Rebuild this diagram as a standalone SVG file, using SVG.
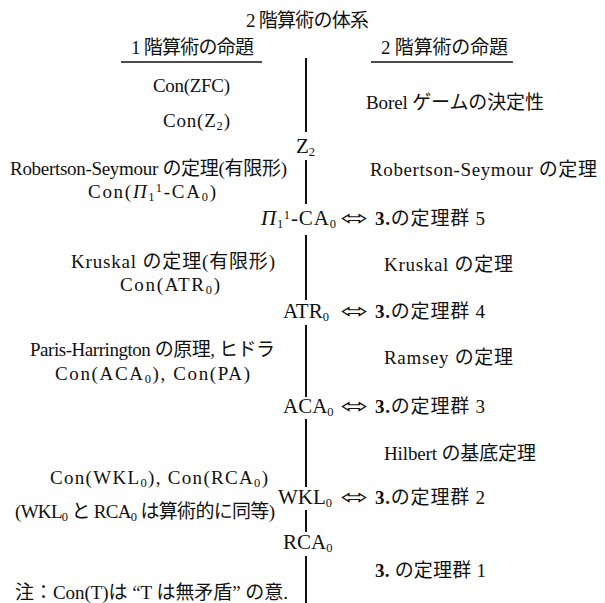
<svg xmlns="http://www.w3.org/2000/svg" width="605" height="603" viewBox="0 0 605 603">
<style>
text{font-family:"Liberation Serif","Noto Sans CJK JP",serif;font-size:19px;fill:#111}
.m{font-size:21px}
.s{font-size:12.5px}
.b{font-weight:bold}
.i{font-style:italic}
.ar{font-family:"DejaVu Sans",sans-serif;font-size:20px}
line{stroke:#111;stroke-width:2}
</style>
<rect width="605" height="603" fill="#fff"/>
<g id="connectors">
<line x1="306" y1="58" x2="306" y2="132"/>
<line x1="306" y1="160" x2="306" y2="204"/>
<line x1="306" y1="235" x2="306" y2="300"/>
<line x1="306" y1="325" x2="306" y2="397"/>
<line x1="306" y1="419" x2="306" y2="487"/>
<line x1="306" y1="510" x2="306" y2="532"/>
<line x1="306" y1="556" x2="306" y2="603"/>
<line x1="121" y1="62" x2="262" y2="62" style="stroke-width:1.5"/>
<line x1="371" y1="62" x2="513" y2="62" style="stroke-width:1.5"/>
</g>
<g id="title"><text x="246" y="27" textLength="123">2 階算術の体系</text></g>
<g id="head1"><text x="131" y="54" textLength="123">1 階算術の命題</text></g>
<g id="head2"><text x="381" y="54" textLength="127">2 階算術の命題</text></g>
<g id="conzfc"><text x="153" y="92" textLength="77">Con(ZFC)</text></g>
<g id="conz2"><text x="163" y="127" textLength="67">Con(Z<tspan class="s" dy="3">2</tspan><tspan dy="-3">)</tspan></text></g>
<g id="borel"><text x="366" y="109" textLength="178">Borel ゲームの決定性</text></g>
<g id="z2"><text class="m" x="296" y="153">Z<tspan class="s" dy="3">2</tspan></text></g>
<g id="rsfin"><text x="10" y="175" textLength="277">Robertson-Seymour の定理(有限形)</text></g>
<g id="conpi"><text x="88" y="198" textLength="128">Con(<tspan class="i">Π</tspan><tspan class="s" dy="3">1</tspan><tspan class="s" dy="-9">1</tspan><tspan dy="6">-CA</tspan><tspan class="s" dy="3">0</tspan><tspan dy="-3">)</tspan></text></g>
<g id="rs"><text x="370" y="176" textLength="227">Robertson-Seymour の定理</text></g>
<g id="pi">
<text class="m" x="261" y="225" textLength="75"><tspan class="i">Π</tspan><tspan class="s" dy="3">1</tspan><tspan class="s" dy="-9">1</tspan><tspan dy="6">-CA</tspan><tspan class="s" dy="3">0</tspan></text>
<text class="ar" x="340" y="225" textLength="28" lengthAdjust="spacingAndGlyphs">⬄</text>
<text x="375" y="225" textLength="110"><tspan class="b">3.</tspan>の定理群 5</text>
</g>
<g id="krfin"><text x="71" y="268" textLength="204">Kruskal の定理(有限形)</text></g>
<g id="conatr"><text x="120" y="291" textLength="100">Con(ATR<tspan class="s" dy="3">0</tspan><tspan dy="-3">)</tspan></text></g>
<g id="kr"><text x="384" y="271" textLength="129">Kruskal の定理</text></g>
<g id="atr">
<text class="m" x="283" y="318">ATR<tspan class="s" dy="3">0</tspan></text>
<text class="ar" x="340" y="318" textLength="28" lengthAdjust="spacingAndGlyphs">⬄</text>
<text x="375" y="318" textLength="110"><tspan class="b">3.</tspan>の定理群 4</text>
</g>
<g id="ph"><text x="30" y="356" textLength="245">Paris-Harrington の原理, ヒドラ</text></g>
<g id="conaca"><text x="55" y="380" textLength="195">Con(ACA<tspan class="s" dy="3">0</tspan><tspan dy="-3">), Con(PA)</tspan></text></g>
<g id="ramsey"><text x="384" y="364" textLength="129">Ramsey の定理</text></g>
<g id="aca">
<text class="m" x="283" y="413">ACA<tspan class="s" dy="3">0</tspan></text>
<text class="ar" x="340" y="413" textLength="28" lengthAdjust="spacingAndGlyphs">⬄</text>
<text x="375" y="413" textLength="110"><tspan class="b">3.</tspan>の定理群 3</text>
</g>
<g id="hilbert"><text x="384" y="460" textLength="152">Hilbert の基底定理</text></g>
<g id="conwkl"><text x="50" y="484" textLength="218">Con(WKL<tspan class="s" dy="3">0</tspan><tspan dy="-3">), Con(RCA</tspan><tspan class="s" dy="3">0</tspan><tspan dy="-3">)</tspan></text></g>
<g id="wkl">
<text class="m" x="278" y="504">WKL<tspan class="s" dy="3">0</tspan></text>
<text class="ar" x="340" y="504" textLength="28" lengthAdjust="spacingAndGlyphs">⬄</text>
<text x="375" y="504" textLength="110"><tspan class="b">3.</tspan>の定理群 2</text>
</g>
<g id="eq"><text x="15" y="518" textLength="260">(WKL<tspan class="s" dy="3">0</tspan><tspan dy="-3"> と RCA</tspan><tspan class="s" dy="3">0</tspan><tspan dy="-3"> は算術的に同等)</tspan></text></g>
<g id="rca"><text class="m" x="283" y="549">RCA<tspan class="s" dy="3">0</tspan></text></g>
<g id="g1"><text x="375" y="577" textLength="111"><tspan class="b">3.</tspan> の定理群 1</text></g>
<g id="note"><text x="15" y="599" textLength="273">注：Con(T)は “T は無矛盾” の意.</text></g>
</svg>
